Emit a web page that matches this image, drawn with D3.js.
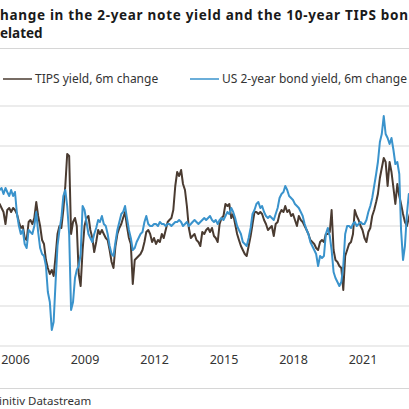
<!DOCTYPE html>
<html>
<head>
<meta charset="utf-8">
<script src="https://cdn.jsdelivr.net/npm/d3@7"></script>
<style>
  body { margin: 0; background: #fff; }
  text { font-family: "Noto Sans", "Open Sans", sans-serif; fill: #333; }
</style>
</head>
<body>
<div id="container"></div>
<script>
/* DATA: 6-month change in percentage points, monthly, from Oct 2005 */
const firstMonth = new Date(2005, 9, 1);

const tipsChange = [
  0.5, 0.55, 0.45, 0.35, 0.05, 0.4, 0.45, 0.35, 0.45, 0.4,
  0.3, 0.1, -0.05, 0.0, -0.3, -0.35, 0.1, 0.15, 0.05, 0.2,
  0.6, 0.25, 0.0, -0.35, -0.45, -0.85, -1.05, -1.2, -1.1, -1.25,
  -0.75, -0.2, 0.0, -0.05, 0.4, 1.0, 1.8, 1.75, -0.2, 0.1,
  0.2, 0.0, -1.2, -1.5, -0.6, 0.0, 0.2, 0.25, -0.1, -0.3,
  -0.65, -0.4, -0.1, -0.2, -0.1, -0.2, -0.3, -0.35, -0.6, -0.9,
  -1.05, -0.5, -0.2, -0.05, 0.05, 0.2, 0.35, 0.0, -0.3, -0.45,
  -1.45, -0.85, -0.8, -0.75, -0.7, -0.6, -0.4, -0.15, -0.1, -0.2,
  -0.4, -0.3, -0.45, -0.35, -0.4, -0.2, -0.3, -0.1, 0.1, 0.15,
  0.2, 0.4, 1.0, 1.35, 1.25, 1.4, 1.05, 0.9, 0.5, -0.05,
  -0.3, -0.25, -0.2, -0.35, -0.4, -0.5, -0.15, -0.2, -0.1, -0.05,
  -0.15, -0.05, -0.25, -0.3, -0.4, 0.05, 0.2, 0.25, 0.55, 0.5,
  0.55, 0.2, 0.3, 0.05, -0.2, -0.35, -0.5, -0.6, -0.7, -0.75,
  -0.5, -0.25, 0.05, 0.35, 0.35, 0.3, 0.35, 0.3, 0.15, 0.05,
  -0.1, -0.05, 0.0, -0.25, 0.05, 0.1, 0.3, 0.4, 0.35, 0.5,
  0.35, 0.4, 0.25, 0.3, 0.15, 0.0, 0.25, 0.15, 0.1, 0.0,
  -0.1, -0.2, -0.35, -0.4, -0.45, -0.55, -0.6, -0.4, -0.35, -0.4,
  -0.2, -0.2, -0.15, 0.4, -0.6, -0.85, -0.9, -1.0, -1.05, -1.6,
  -0.75, -0.6, -0.45, -0.4, -0.2, 0.4, 0.25, 0.15, 0.0, -0.1,
  -0.3, -0.4, -0.15, -0.05, 0.25, 0.4, 0.6, 0.8, 1.2, 1.45,
  1.7, 1.6, 1.0, 1.6, 1.35, 0.95, 0.55, 1.05, 0.75, 0.55,
  0.3, 0.1, 0.0, 0.2, 0.4
];

const twoYearChange = [
  0.85, 0.9, 0.95, 0.8, 0.95, 0.85, 0.75, 0.9, 0.75, 0.85,
  0.3, 0.0, -0.2, -0.1, -0.45, -0.55, -0.1, -0.15, -0.2, 0.0,
  0.35, -0.15, -0.55, -0.7, -0.75, -1.0, -1.65, -1.9, -2.6, -2.4,
  -1.4, -0.5, -0.1, 0.2, 0.75, 0.9, 0.5, -0.2, -2.1, -1.9,
  -1.3, -1.1, -1.0, -0.7, 0.5, 0.4, 0.1, -0.2, -0.3, -0.4,
  -0.2, -0.05, 0.15, 0.1, 0.25, 0.05, 0.0, -0.2, -0.5, -0.7,
  -0.75, -0.4, -0.1, 0.1, 0.3, 0.35, 0.5, 0.2, -0.1, -0.3,
  -0.6, -0.55, -0.4, -0.3, -0.2, -0.15, 0.1, 0.25, 0.05, 0.0,
  0.0, 0.05, 0.05, 0.0, 0.1, 0.05, 0.05, 0.0, 0.05, 0.05,
  0.0, 0.05, 0.1, 0.1, 0.15, 0.1, 0.0, 0.05, 0.1, 0.0,
  0.05, 0.1, 0.15, 0.1, 0.05, 0.1, 0.15, 0.2, 0.15, 0.2,
  0.25, 0.15, 0.1, 0.15, 0.05, 0.15, 0.2, 0.15, 0.25, 0.35,
  0.3, 0.45, 0.35, 0.2, 0.0, -0.1, -0.2, -0.4, -0.45, -0.5,
  -0.3, -0.05, 0.3, 0.4, 0.55, 0.6, 0.45, 0.5, 0.35, 0.25,
  0.2, 0.25, 0.2, 0.15, 0.3, 0.45, 0.7, 0.8, 0.85, 1.0,
  0.9, 0.75, 0.7, 0.65, 0.55, 0.5, 0.45, 0.35, 0.25, 0.05,
  -0.1, -0.2, -0.4, -0.5, -0.6, -0.7, -1.0, -0.75, -0.8, -0.75,
  -0.2, -0.05, -0.25, -0.6, -1.15, -1.3, -1.4, -1.5, -1.4, -1.0,
  -0.2, 0.0, 0.0, -0.05, 0.05, 0.1, 0.0, 0.05, 0.1, 0.05,
  0.05, 0.15, 0.35, 0.5, 0.7, 1.0, 1.3, 1.6, 2.1, 2.3,
  2.75, 2.3, 2.2, 2.05, 2.2, 1.9, 1.55, 1.6, 1.3, -0.1,
  -0.85, -0.5, 0.3, 0.8, 0.8
];

const yTicks = [-3, -2, -1, 0, 1, 2, 3];
const yearLabels = [2006, 2009, 2012, 2015, 2018, 2021];

const seriesNames = ["TIPS yield, 6m change", "US 2-year bond yield, 6m change"];
const seriesColors = ["#4a3b31", "#3a93cc"];

/* CONSTANTS */
const width = 409,
  height = 409;

// one date per monthly reading
const months = d3.timeMonth.range(firstMonth, d3.timeMonth.offset(firstMonth, tipsChange.length));

/* SCALES */
// year labels sit in the middle of their year
const xScale = d3.scaleTime()
  .domain([new Date(2006, 6, 1), new Date(2021, 6, 1)])
  .range([15, 362.5]);

const yScale = d3.scaleLinear()
  .domain([-3, 3])
  .range([346, 106]);

const svg = d3.select("#container")
  .append("svg")
  .attr("width", width)
  .attr("height", height);

// title (cropped on both sides in the source)
svg.append("text")
  .attr("x", 0)
  .attr("y", 20)
  .attr("textLength", 408)
  .attr("lengthAdjust", "spacing")
  .style("font-size", "13.5px")
  .style("font-weight", "bold")
  .style("fill", "#1a1a1a")
  .text("hange in the 2-year note yield and the 10-year TIPS bon");

svg.append("text")
  .attr("x", 0)
  .attr("y", 38)
  .style("font-size", "13.5px")
  .style("font-weight", "bold")
  .style("fill", "#1a1a1a")
  .text("elated");

// separators
svg.append("line")
  .attr("x1", 0).attr("x2", width)
  .attr("y1", 48.5).attr("y2", 48.5)
  .attr("stroke", "#d6d6d6");

svg.append("line")
  .attr("x1", 0).attr("x2", width)
  .attr("y1", 388.5).attr("y2", 388.5)
  .attr("stroke", "#d6d6d6");

// legend
const legendX = [3, 190];
const legend = svg.append("g")
  .selectAll("g")
  .data(seriesNames)
  .enter()
  .append("g")
  .attr("transform", (d, i) => `translate(${legendX[i]},79)`);

legend.append("line")
  .attr("x1", 0).attr("x2", 29)
  .attr("stroke", (d, i) => seriesColors[i])
  .attr("stroke-width", 1.5);

legend.append("text")
  .attr("x", 32)
  .attr("y", 4)
  .style("font-size", "12px")
  .text(d => d);

// gridlines
svg.append("g")
  .selectAll("line")
  .data(yTicks)
  .enter()
  .append("line")
  .attr("x1", 0).attr("x2", width)
  .attr("y1", d => yScale(d)).attr("y2", d => yScale(d))
  .attr("stroke", "#dadada")
  .attr("stroke-width", 1.2);

// x axis labels
const xAxis = d3.axisBottom(xScale)
  .tickValues(yearLabels.map(y => new Date(y, 6, 1)))
  .tickFormat(d3.timeFormat("%Y"))
  .tickSize(0)
  .tickPadding(0);

const xg = svg.append("g")
  .attr("transform", "translate(0,353)")
  .call(xAxis);
xg.select(".domain").remove();
xg.selectAll("text")
  .style("font-size", "12.5px")
  .style("fill", "#333")
  .attr("dy", "0.9em");

// lines
const line = d3.line()
  .x((d, i) => xScale(months[i]))
  .y(d => yScale(d));

[tipsChange, twoYearChange].forEach((values, k) => {
  svg.append("path")
    .datum(values)
    .attr("fill", "none")
    .attr("stroke", seriesColors[k])
    .attr("stroke-width", 2)
    .attr("stroke-linejoin", "round")
    .attr("d", line);
});

// source
svg.append("text")
  .attr("x", -1)
  .attr("y", 405)
  .style("font-size", "11.5px")
  .text("initiv Datastream");
</script>
</body>
</html>
